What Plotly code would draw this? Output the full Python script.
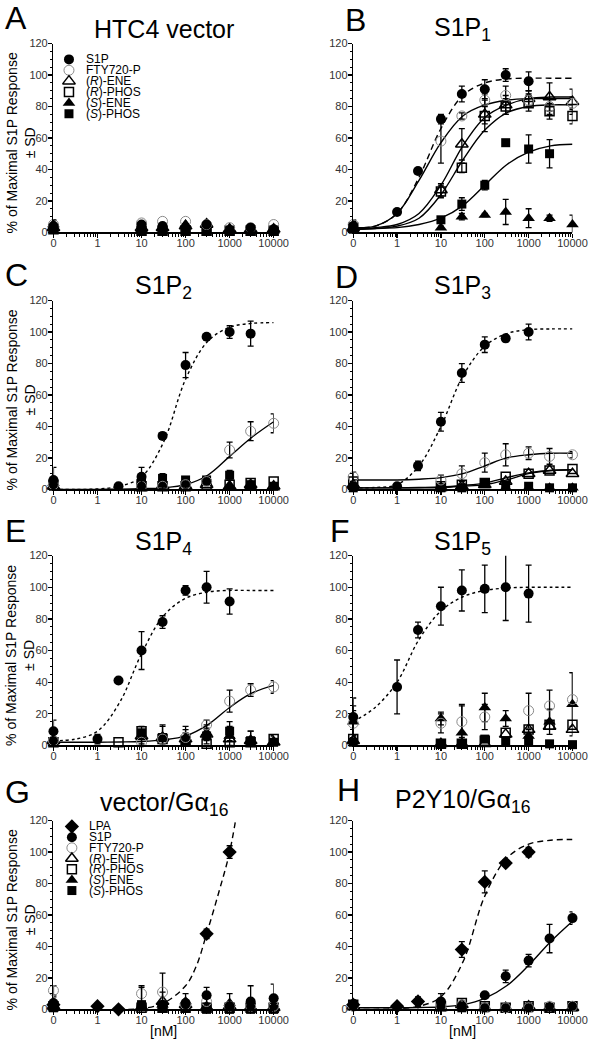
import math
import plotly.graph_objects as go

W, H = 603, 1048

# ---------------- data ----------------
DOSE = [0, 1, 3, 10, 30, 100, 300, 1000, 3000, 10000]           # nM
CURVE_X = [0, 0.316, 1, 3.16, 10, 31.6, 100, 316, 1000, 3162, 10000]
TICK_POS = [0, 1, 10, 100, 1000, 10000]
TICK_LABELS = ["0", "1", "10", "100", "1000", "10000"]
N = None

# A: HTC4 vector
A_S1P = [4, N, N, 5, 4, 3, 5, 1, 3, 2]
A_S1P_SD = [4, N, N, 1, 1, 1, 1, 1, 1, 1]
A_FTY = [5, N, N, 6, 7, 7, 5, 3, 3, 5]
A_RENE = [3, N, N, 3, 3, 4, 5, 2, 2, 2]
A_RPHOS = [2, N, N, 1, 1, 1, 1, 1, 1, 1]
A_SENE = [5, N, N, 2, 3, 5, 6, 2, 2, 1]
A_SPHOS = [2, N, N, 1, 1, 1, 1, 1, 1, 1]

# B: S1P1
B_S1P = [4, 13, 39, 72, 88, 91, 100, 96, N, N]
B_S1P_SD = [3, 1, 2, 3, 5, 6, 4, 6, N, N]
B_FTY = [5, N, N, 58, 74, 84, 87, 84, 80, 82]
B_FTY_SD = [3, N, N, 14, 2, 4, 6, 4, 5, 4]
B_RENE = [3, N, N, 27, 56, 75, 81, 85, 86, 83]
B_RENE_SD = [2, N, N, 4, 10, 6, 6, 5, 9, 8]
B_RPHOS = [3, N, N, 26, 41, 74, 80, 82, 77, 74]
B_RPHOS_SD = [2, N, N, 4, 3, 10, 5, 5, 5, 5]
B_SENE = [2, N, N, 3, 10, 11, 13, 9, 9, 5]
B_SENE_SD = [2, N, N, 1, 2, 1, 8, 6, 2, 6]
B_SPHOS = [2, N, N, 8, 18, 30, 57, 53, 50, N]
B_SPHOS_SD = [2, N, N, 2, 4, 3, 2, 9, 9, N]
B_S1P_FIT = [3, 4, 12, 35, 66, 87, 95, 97.5, 98, 98, 98]
B_FTY_FIT = [3, 4, 12, 33, 57, 74, 81, 84, 85, 85, 85]
B_RENE_FIT = [2, 3, 5, 12, 30, 55, 73, 81, 85, 86, 86]
B_RPHOS_FIT = [2, 2.5, 4, 9, 24, 46, 65, 76, 80, 81, 81]
B_SPHOS_FIT = [2, 2.5, 3, 5, 9, 17, 30, 43, 51, 55, 56]

# C: S1P2
C_S1P = [6, N, 2, 8, 34, 79, 97, 100, 99, N]
C_S1P_SD = [8, N, 1, 6, 2, 8, 2, 4, 8, N]
C_FTY = [3, N, N, 2, 2, 3, 5, 25, 37, 42]
C_FTY_SD = [2, N, N, 2, 2, 2, 2, 5, 6, 6]
C_RENE = [2, N, N, 1, 2, 2, 3, 2, 3, 2]
C_RPHOS = [3, N, N, 2, 2, 2, 3, 3, 4, 5]
C_SENE = [4, N, N, 1, 3, 3, 4, 2, 2, 1]
C_SPHOS = [2, N, N, 4, 7, 6, 6, 9, 3, 2]
C_SPHOS_SD = [3, N, N, 6, 3, 2, 2, 3, 2, 1]
C_S1P_FIT = [0, 0, 0.3, 2, 8, 30, 70, 94, 103, 105.5, 106]
C_FTY_FIT = [0, 0, 0, 0.2, 0.5, 1, 3, 9, 21, 33, 43]

# D: S1P3
D_S1P = [2, 2, 15, 43, 74, 92, 96, 100, N, N]
D_S1P_SD = [2, 1, 3, 6, 6, 5, 2, 5, N, N]
D_FTY = [8, N, N, 6, 10, 17, 22, 23, 21, 22]
D_FTY_SD = [3, N, N, 3, 5, 6, 7, 4, 5, 2]
D_RENE = [3, N, N, 1, 2, 3, 5, 10, 12, 10]
D_RPHOS = [5, N, N, 2, 3, 4, 8, 10, 12, 13]
D_SENE = [2, N, N, 1, 1, 3, 1, 1, 1, 1]
D_SPHOS = [1, N, N, 1, 1, 4, 2, 2, 1, 1]
D_S1P_FIT = [1, 1.2, 3, 15, 40, 72, 91, 99, 101.5, 102, 102]
D_FTY_FIT = [6, 6, 6, 6.5, 7.5, 10, 15, 20, 22, 23, 23]
D_RENE_FIT = [1, 1, 1, 1, 1.2, 2, 3, 6, 10, 12, 12.5]
D_RPHOS_FIT = [1, 1, 1, 1.2, 1.5, 2.5, 4, 7.5, 10.5, 12, 12.5]

# E: S1P4
E_S1P = [9, 4, 41, 60, 78, 98, 100, 91, N, N]
E_S1P_SD = [7, 3, 1, 12, 4, 3, 10, 8, N, N]
E_FTY = [3, N, N, 2, 4, 5, 13, 28, 35, 37]
E_FTY_SD = [2, N, N, 2, 3, 3, 3, 7, 4, 4]
E_RENE = [3, N, N, 6, 5, 4, 7, 4, 3, 2]
E_RPHOS = [2, N, 2, 9, 4, 3, 1, 2, 2, 4]
E_SENE = [4, N, N, 5, 4, 5, 8, 6, 3, 2]
E_SPHOS = [2, N, N, 8, 5, 3, 6, 9, 3, 2]
E_SPHOS_SD = [5, N, N, 4, 8, 7, 5, 6, 6, 4]
E_S1P_FIT = [3, 4, 9, 27, 58, 82, 93, 97, 98, 98, 98]
E_FTY_FIT = [2, 2, 2, 2.2, 2.5, 3.5, 6, 13, 24, 33, 38]

# F: S1P5
F_S1P = [18, 37, 73, 88, 98, 99, 100, 96, N, N]
F_S1P_SD = [12, 17, 5, 12, 13, 15, 21, 18, N, N]
F_FTY = [14, N, N, 14, 15, 18, N, 22, 25, 29]
F_FTY_SD = [8, N, N, 6, 10, 8, N, 11, 10, 17]
F_RENE = [3, N, N, 1, 1, 1, 7, 10, 12, 10]
F_RPHOS = [4, N, N, 1, 1, 3, 8, 10, 13, 13]
F_SENE = [15, N, N, 17, 8, 24, 17, 6, 15, 26]
F_SENE_SD = [10, N, N, 4, 18, 9, 5, 4, 8, 20]
F_SPHOS = [2, N, N, 1, 1, 4, 3, 3, 1, 0.5]
F_S1P_FIT = [15, 24, 40, 67, 85, 94, 98, 99.5, 100, 100, 100]

# G: vector/Galpha16
G_LPA = [3, 2, 0, N, N, N, 48, 100, N, N]
G_LPA_SD = [2, 1, 1, N, N, N, 3, 4, N, N]
G_S1P = [4, N, N, 2, 3, 4, 9, 2, 5, 7]
G_S1P_SD = [4, N, N, 12, 8, 6, 5, 8, 10, 9]
G_FTY = [12, N, N, 10, 11, 3, 5, 2, 2, 2]
G_FTY_SD = [3, N, N, 5, 12, 3, 3, 2, 2, 2]
G_RENE = [2, N, N, 1, 5, 3, 1, 2, 1, 1]
G_RPHOS = [2, N, N, 1, 1, 1, 1, 1, 1, 1]
G_SENE = [3, N, N, 2, 3, 5, 2, 4, 2, 2]
G_SPHOS = [1, N, N, 3, 1, 1, 0, 0, 0, 0]
G_LPA_FIT_X = [5, 10, 31.6, 100, 178, 300, 562, 1000, 1780]
G_LPA_FIT = [0, 0.5, 4, 15, 28, 48, 74, 100, 140]

# H: P2Y10/Galpha16
H_LPA = [3, 2, 5, N, 38, 81, 93, 100, N, N]
H_LPA_SD = [2, 1, 3, N, 5, 7, 2, 3, N, N]
H_S1P = [3, N, N, 5, 2, 9, 21, 31, 45, 58]
H_S1P_SD = [3, N, N, 5, 2, 1, 4, 4, 9, 4]
H_FTY = [2, N, N, 2, 3, 1, 1, 1, 2, 2]
H_RENE = [2, N, N, 1, 3, 1, 1, 2, 1, 1]
H_RPHOS = [3, N, N, 2, 4, 2, 1, 2, 1, 2]
H_SENE = [1, N, N, 1, 1, 1, 1, 1, 1, 1]
H_SPHOS = [2, N, N, 3, 1, 1, 1, 1, 1, 2]
H_LPA_FIT = [0, 0, 0.5, 2, 8, 30, 72, 96, 105, 107.5, 108]
H_S1P_FIT = [1, 1, 1, 1.2, 1.5, 3, 7, 15, 28, 43, 56]

LEGEND_A = ["S1P", "FTY", "RENE", "RPHOS", "SENE", "SPHOS"]
LEGEND_G = ["LPA", "S1P", "FTY", "RENE", "RPHOS", "SENE", "SPHOS"]
NAMES = {"LPA": "LPA", "S1P": "S1P", "FTY": "FTY720-P", "RENE": "(<i>R</i>)-ENE",
         "RPHOS": "(<i>R</i>)-PHOS", "SENE": "(<i>S</i>)-ENE", "SPHOS": "(<i>S</i>)-PHOS"}

# ---------------- styling ----------------
FONT = "Liberation Sans, Arial, Helvetica, sans-serif"
STYLE = {
    "LPA": dict(symbol="diamond", color="black", size=11),
    "S1P": dict(symbol="circle", color="black", size=10),
    "FTY": dict(symbol="circle-open", color="#8a8a8a", size=10, line=dict(width=1, color="#8a8a8a")),
    "RENE": dict(symbol="triangle-up-open", color="black", size=11, line=dict(width=1.5, color="black")),
    "RPHOS": dict(symbol="square-open", color="black", size=9, line=dict(width=1.5, color="black")),
    "SENE": dict(symbol="triangle-up", color="black", size=11),
    "SPHOS": dict(symbol="square", color="black", size=9),
}


def PX(x):   # pixel -> paper x
    return x / W


def PY(y):   # pixel -> paper y
    return 1 - y / H


def pos(c):
    return -1.0 if c == 0 else math.log10(c)


# plot-area boxes in pixels: (left, right), (top, bottom)
COLS = [(52, 279), (361, 587)]
ROWS = [(38, 229), (298, 489), (556, 748), (824, 1015)]

PANELS = [
    dict(letter="A", lpos=(0, 12), tpos=23, title="HTC4 vector", series=[
        ("SPHOS", A_SPHOS, None), ("SENE", A_SENE, None), ("RPHOS", A_RPHOS, None),
        ("RENE", A_RENE, None), ("FTY", A_FTY, None), ("S1P", A_S1P, A_S1P_SD)], curves=[]),
    dict(letter="B", lpos=(350, 14), tpos=23, title="S1P<sub>1</sub>", series=[
        ("SPHOS", B_SPHOS, B_SPHOS_SD), ("SENE", B_SENE, B_SENE_SD), ("RPHOS", B_RPHOS, B_RPHOS_SD),
        ("RENE", B_RENE, B_RENE_SD), ("FTY", B_FTY, B_FTY_SD), ("S1P", B_S1P, B_S1P_SD)],
        curves=[(CURVE_X, B_FTY_FIT, "solid"), (CURVE_X, B_RENE_FIT, "solid"),
                (CURVE_X, B_RPHOS_FIT, "solid"), (CURVE_X, B_SPHOS_FIT, "solid"),
                (CURVE_X, B_S1P_FIT, "6px,4px")]),
    dict(letter="C", lpos=(0, 272), tpos=284, title="S1P<sub>2</sub>", series=[
        ("SPHOS", C_SPHOS, C_SPHOS_SD), ("SENE", C_SENE, None), ("RPHOS", C_RPHOS, None),
        ("RENE", C_RENE, None), ("FTY", C_FTY, C_FTY_SD), ("S1P", C_S1P, C_S1P_SD)],
        curves=[(CURVE_X, C_FTY_FIT, "solid"), (CURVE_X, C_S1P_FIT, "3px,3px")]),
    dict(letter="D", lpos=(340, 274), tpos=284, title="S1P<sub>3</sub>", series=[
        ("SPHOS", D_SPHOS, None), ("SENE", D_SENE, None), ("RPHOS", D_RPHOS, None),
        ("RENE", D_RENE, None), ("FTY", D_FTY, D_FTY_SD), ("S1P", D_S1P, D_S1P_SD)],
        curves=[(CURVE_X, D_FTY_FIT, "solid"), (CURVE_X, D_RENE_FIT, "solid"),
                (CURVE_X, D_RPHOS_FIT, "solid"), (CURVE_X, D_S1P_FIT, "3px,3px")]),
    dict(letter="E", lpos=(0, 531), tpos=543, title="S1P<sub>4</sub>", series=[
        ("SPHOS", E_SPHOS, E_SPHOS_SD), ("SENE", E_SENE, E_SPHOS_SD), ("RPHOS", E_RPHOS, None),
        ("RENE", E_RENE, None), ("FTY", E_FTY, E_FTY_SD), ("S1P", E_S1P, E_S1P_SD)],
        curves=[(CURVE_X, E_FTY_FIT, "solid"), (CURVE_X, E_S1P_FIT, "3px,3px")]),
    dict(letter="F", lpos=(335, 531), tpos=543, title="S1P<sub>5</sub>", series=[
        ("SPHOS", F_SPHOS, None), ("SENE", F_SENE, F_SENE_SD), ("RPHOS", F_RPHOS, None),
        ("RENE", F_RENE, None), ("FTY", F_FTY, F_FTY_SD), ("S1P", F_S1P, F_S1P_SD)],
        curves=[(CURVE_X, F_S1P_FIT, "3px,3px")]),
    dict(letter="G", lpos=(0, 795), tpos=807, title="vector/Gα<sub>16</sub>", series=[
        ("SPHOS", G_SPHOS, None), ("SENE", G_SENE, None), ("RPHOS", G_RPHOS, None),
        ("RENE", G_RENE, None), ("FTY", G_FTY, G_FTY_SD), ("S1P", G_S1P, G_S1P_SD),
        ("LPA", G_LPA, G_LPA_SD)],
        curves=[(G_LPA_FIT_X, G_LPA_FIT, "6px,4px")]),
    dict(letter="H", lpos=(342, 793), tpos=804, title="P2Y10/Gα<sub>16</sub>", series=[
        ("SPHOS", H_SPHOS, None), ("SENE", H_SENE, None), ("RPHOS", H_RPHOS, None),
        ("RENE", H_RENE, None), ("FTY", H_FTY, None), ("S1P", H_S1P, H_S1P_SD),
        ("LPA", H_LPA, H_LPA_SD)],
        curves=[(CURVE_X, H_S1P_FIT, "solid"), (CURVE_X, H_LPA_FIT, "6px,4px")]),
]

fig = go.Figure()
layout = dict(width=W, height=H, margin=dict(l=0, r=0, t=0, b=0),
              paper_bgcolor="white", plot_bgcolor="rgba(0,0,0,0)", showlegend=False,
              font=dict(family=FONT, color="black"), hovermode=False)
annotations = []

minor_x = [math.log10(k * 10 ** e) for e in range(-1, 4) for k in range(2, 10)]

for i, p in enumerate(PANELS):
    r, c = divmod(i, 2)
    left, right = COLS[c]
    top, bottom = ROWS[r]
    n = i + 1
    xa, ya = f"x{n}", f"y{n}"
    layout[f"xaxis{n}"] = dict(
        domain=[PX(left), PX(right)], anchor=ya, range=[-1, 4],
        tickmode="array", tickvals=[pos(t) for t in TICK_POS], ticktext=TICK_LABELS,
        ticks="outside", ticklen=4, tickwidth=1.3, tickcolor="black", ticklabelstandoff=-4,
        showline=True, linecolor="black", linewidth=1.5, showgrid=False, zeroline=False,
        tickfont=dict(size=11, color="#333", family=FONT),
        minor=dict(tickmode="array", tickvals=minor_x, ticks="outside", ticklen=3,
                   tickwidth=1, tickcolor="black", showgrid=False))
    layout[f"yaxis{n}"] = dict(
        domain=[PY(bottom), PY(top)], anchor=xa, range=[0, 120],
        tickmode="linear", tick0=0, dtick=20,
        ticks="outside", ticklen=4, tickwidth=1.3, tickcolor="black", ticklabelstandoff=-2,
        showline=True, linecolor="black", linewidth=1.5, showgrid=False, zeroline=False,
        tickfont=dict(size=11, color="#333", family=FONT),
        minor=dict(dtick=5, ticks="outside", ticklen=2, tickwidth=1, tickcolor="black", showgrid=False))

    for cx, cy, dash in p["curves"]:
        fig.add_trace(go.Scatter(x=[pos(v) for v in cx], y=cy, xaxis=xa, yaxis=ya,
                                 mode="lines", line=dict(color="black", width=1.4, dash=dash,
                                                         shape="spline", smoothing=1.0),
                                 hoverinfo="skip"))
    for key, vals, sd in p["series"]:
        xs = [pos(d) for d, v in zip(DOSE, vals) if v is not None]
        ys = [v for v in vals if v is not None]
        st = STYLE[key]
        mk = dict(symbol=st["symbol"], color=st["color"], size=st["size"])
        if "line" in st:
            mk["line"] = st["line"]
        tr = dict(x=xs, y=ys, xaxis=xa, yaxis=ya, mode="markers", marker=mk,
                  cliponaxis=False, name=key)
        if sd is not None:
            ev = [s if s is not None else 0 for v, s in zip(vals, sd) if v is not None]
            tr["error_y"] = dict(type="data", array=ev, visible=True, color="black",
                                 thickness=1.3, width=3)
        fig.add_trace(go.Scatter(**tr))

    cxp = (left + right) / 2
    annotations.append(dict(text=p["title"], x=PX(cxp), y=PY(p["tpos"]), xref="paper",
                            yref="paper", xanchor="center", yanchor="middle", showarrow=False,
                            font=dict(size=25, family=FONT, color="black")))
    lx, ly = p["lpos"]
    annotations.append(dict(text=p["letter"], x=PX(lx), y=PY(ly), xref="paper",
                            yref="paper", xanchor="left", yanchor="middle", showarrow=False,
                            font=dict(size=32, family=FONT, color="black")))
    if c == 0:
        annotations.append(dict(text="% of Maximal S1P Response<br>± SD", textangle=-90,
                                x=PX(18), y=PY((top + bottom) / 2 + 5), xref="paper",
                                yref="paper", xanchor="center", yanchor="middle",
                                showarrow=False, font=dict(size=14, family=FONT, color="black")))
    if r == 3:
        annotations.append(dict(text="[nM]", x=PX(cxp), y=PY(1037), xref="paper",
                                yref="paper", xanchor="center", yanchor="middle",
                                showarrow=False, font=dict(size=14, family=FONT, color="black")))

# legends (panels A and G): markers on an overlay axis measured in pixels
layout["xaxis9"] = dict(domain=[0, 1], range=[0, W], visible=False, fixedrange=True, anchor="y9")
layout["yaxis9"] = dict(domain=[0, 1], range=[H, 0], visible=False, fixedrange=True, anchor="x9")
for items, x0, y0, step in [(LEGEND_A, 68, 54, 11), (LEGEND_G, 71, 830, 10.8)]:
    for k, key in enumerate(items):
        yy = y0 + k * step
        st = STYLE[key]
        mk = dict(symbol=st["symbol"], color=st["color"], size=st["size"])
        if "line" in st:
            mk["line"] = st["line"]
        fig.add_trace(go.Scatter(x=[x0], y=[yy], xaxis="x9", yaxis="y9", mode="markers",
                                 marker=mk, hoverinfo="skip", cliponaxis=False))
        annotations.append(dict(text=NAMES[key], x=PX(x0 + 16), y=PY(yy), xref="paper",
                                yref="paper", xanchor="left", yanchor="middle", showarrow=False,
                                font=dict(size=12, family=FONT, color="black")))

layout["annotations"] = annotations
fig.update_layout(**layout)
# remove the page's default 8px body margin so the figure sits at the window origin
fig.write_html("out.html", config={"displayModeBar": False, "staticPlot": True},
               post_script="document.body.style.margin='0px';")
